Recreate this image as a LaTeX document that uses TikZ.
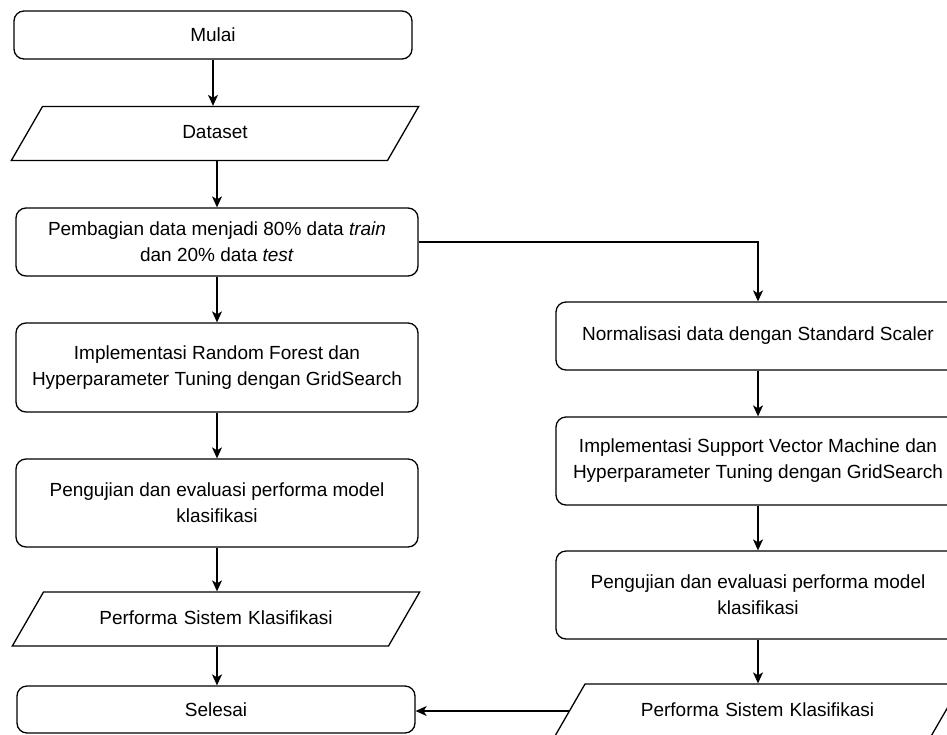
\documentclass[tikz,border=0pt]{standalone}
\usepackage{fontspec}
\setmainfont{Liberation Sans}
\usetikzlibrary{arrows.meta,
                shapes.geometric}

\begin{document}
\begin{tikzpicture}[
			x=1pt, y=-1pt,
			line width=1.3pt,
			font=\fontsize{19}{26}\selectfont,
			>={Stealth[length=11pt, width=10pt, inset=3pt]},
			proc/.style = {draw, rounded corners=10pt, align=center, inner sep=0pt, minimum width=402pt},
			io/.style = {draw, trapezium, trapezium left angle=60, trapezium right angle=120,
			             align=center, inner xsep=0pt, inner ysep=18pt,
			             text height=14pt, text depth=4pt, text width=345pt},
			]
			\clip (0,0) rectangle (947,734);
			% left column
			\node[proc, minimum width=398pt, minimum height=48pt] (mulai) at (213,35) {Mulai};
			\node[io] (dataset) at (215,133.5) {Dataset};
			\node[proc, minimum height=68pt] (bagi) at (217,242)
			      {Pembagian data menjadi 80\% data \textit{train}\\dan 20\% data \textit{test}};
			\node[proc, minimum height=89pt] (rf) at (217,367.5)
			      {Implementasi Random Forest dan\\Hyperparameter Tuning dengan GridSearch};
			\node[proc, minimum height=88pt] (ujiL) at (217,503)
			      {Pengujian dan evaluasi performa model\\klasifikasi};
			\node[io] (perfL) at (216,619) {Performa Sistem Klasifikasi};
			\node[proc, minimum width=398pt, minimum height=47pt] (selesai) at (216,709.5) {Selesai};
			% right column
			\node[proc, minimum width=404pt, minimum height=68pt] (norm) at (758,336)
			      {Normalisasi data dengan Standard Scaler};
			\node[proc, minimum width=404pt, minimum height=88pt] (svm) at (758,461)
			      {Implementasi Support Vector Machine dan\\Hyperparameter Tuning dengan GridSearch};
			\node[proc, minimum width=404pt, minimum height=88pt] (ujiR) at (758,595)
			      {Pengujian dan evaluasi performa model\\klasifikasi};
			\node[io] (perfR) at (757.5,711) {Performa Sistem Klasifikasi};
			% edges
			\draw[->] (mulai.south) -- (mulai.south |- dataset.north);
			\draw[->] (bagi.north |- dataset.south) -- (bagi.north);
			\draw[->] (bagi.south) -- (rf.north);
			\draw[->] (rf.south) -- (ujiL.north);
			\draw[->] (ujiL.south) -- (ujiL.south |- perfL.north);
			\draw[->] (ujiL.south |- perfL.south) -- (ujiL.south |- selesai.north);
			\draw[->] (bagi.east) -| (norm.north);
			\draw[->] (norm.south) -- (svm.north);
			\draw[->] (svm.south) -- (ujiR.north);
			\draw[->] (ujiR.south) -- (ujiR.south |- perfR.north);
			\draw[->] (perfR.west) -- (perfR.west -| selesai.east);
		\end{tikzpicture}
\end{document}
